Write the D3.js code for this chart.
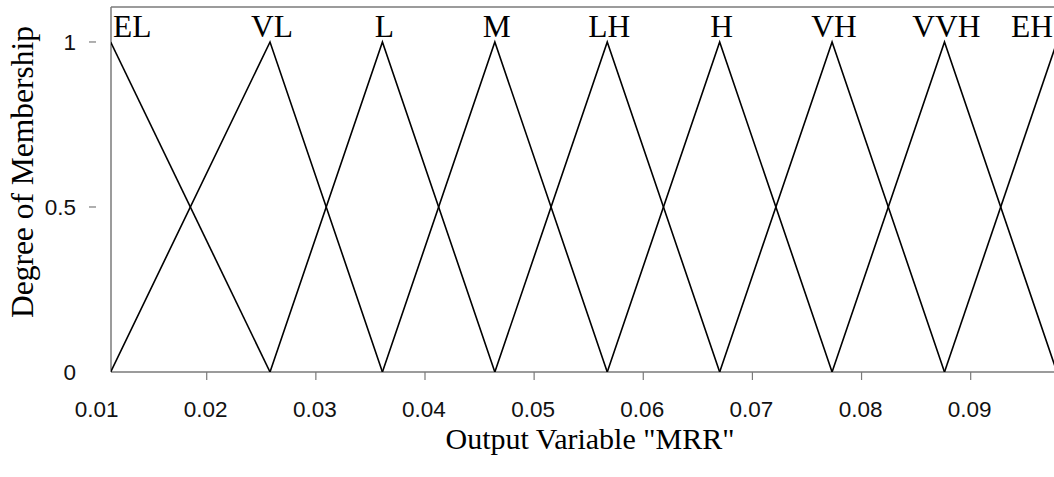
<!DOCTYPE html>
<html>
<head>
<meta charset="utf-8">
<script src="https://cdn.jsdelivr.net/npm/d3@7"></script>
<style>
  html, body { margin: 0; padding: 0; background: #fff; }
  svg { display: block; }
</style>
</head>
<body>
<svg id="chart" width="1054" height="477"></svg>
<script>
// Membership function sets for the output variable MRR
const setNames = ["EL", "VL", "L", "M", "LH", "H", "VH", "VVH", "EH"];
const peakValues = [0.0112, 0.0258, 0.0361, 0.0464, 0.0567, 0.0670, 0.0773, 0.0876, 0.0979];
const xTickValues = [0.01, 0.02, 0.03, 0.04, 0.05, 0.06, 0.07, 0.08, 0.09];
const yTickValues = [0, 0.5, 1];
const yDashValues = [0.5, 1];

const svg = d3.select("#chart");
const W = 1054;

const plotLeft = 111, plotRight = 1058, plotTop = 7, plotBottom = 372;
const x = d3.scaleLinear().domain([0.01123, 0.0980]).range([plotLeft, plotRight]);
const y = d3.scaleLinear().domain([0, 1.106]).range([plotBottom, plotTop]);

const axisColor = "#7a7a7a";
const sansFont = "'Liberation Sans', Arial, sans-serif";
const serifFont = "'Liberation Serif', 'Times New Roman', serif";

// frame: left axis, bottom axis, top border
svg.append("line").attr("x1", plotLeft).attr("x2", plotLeft).attr("y1", plotTop).attr("y2", plotBottom)
  .attr("stroke", axisColor).attr("stroke-width", 1.5);
svg.append("line").attr("x1", plotLeft).attr("x2", W).attr("y1", plotBottom).attr("y2", plotBottom)
  .attr("stroke", axisColor).attr("stroke-width", 1.5);
svg.append("line").attr("x1", plotLeft).attr("x2", W).attr("y1", plotTop).attr("y2", plotTop)
  .attr("stroke", axisColor).attr("stroke-width", 1.5);

// x ticks (only inside the domain) and labels
const xTicksG = svg.append("g");
xTicksG.selectAll("line")
  .data(xTickValues.filter(v => x(v) >= plotLeft && x(v) <= W))
  .join("line")
  .attr("x1", d => x(d)).attr("x2", d => x(d))
  .attr("y1", plotBottom).attr("y2", plotBottom + 8)
  .attr("stroke", axisColor).attr("stroke-width", 1.2);
xTicksG.selectAll("text")
  .data(xTickValues)
  .join("text")
  .attr("x", d => x(d) - 1)
  .attr("y", 417)
  .attr("text-anchor", "middle")
  .attr("font-family", sansFont).attr("font-size", 22.5)
  .attr("fill", "#111")
  .text(d => d3.format(".2f")(d));

// y ticks: short dashes set off from the axis, and labels
svg.append("g").selectAll("line")
  .data(yDashValues)
  .join("line")
  .attr("x1", 89).attr("x2", 96)
  .attr("y1", d => y(d)).attr("y2", d => y(d))
  .attr("stroke", axisColor).attr("stroke-width", 1.2);
svg.append("g").selectAll("text")
  .data(yTickValues)
  .join("text")
  .attr("x", 76)
  .attr("y", d => y(d) + 8)
  .attr("text-anchor", "end")
  .attr("font-family", sansFont).attr("font-size", 22.5)
  .attr("fill", "#111")
  .text(d => d3.format("")(d));

// triangular membership functions
const line = d3.line().x(d => x(d[0])).y(d => y(d[1]));
const shapes = setNames.map((name, i) => {
  const pts = [];
  if (i > 0) pts.push([peakValues[i - 1], 0]);
  pts.push([peakValues[i], 1]);
  if (i < peakValues.length - 1) pts.push([peakValues[i + 1], 0]);
  return { name, pts };
});
svg.append("defs").append("clipPath").attr("id", "plotClip")
  .append("rect").attr("x", plotLeft).attr("y", plotTop).attr("width", W - plotLeft).attr("height", plotBottom - plotTop);
svg.append("g").attr("clip-path", "url(#plotClip)")
  .selectAll("path")
  .data(shapes)
  .join("path")
  .attr("d", d => line(d.pts))
  .attr("fill", "none")
  .attr("stroke", "#000")
  .attr("stroke-width", 1.6)
  .attr("stroke-linejoin", "miter");

// set names above each peak
const last = shapes.length - 1;
svg.append("g").selectAll("text")
  .data(shapes)
  .join("text")
  .attr("x", (d, i) => i === 0 ? plotLeft + 2 : (i === last ? W - 1 : x(peakValues[i]) + 2))
  .attr("y", 37)
  .attr("text-anchor", (d, i) => i === 0 ? "start" : (i === last ? "end" : "middle"))
  .attr("font-family", serifFont).attr("font-size", 31.5)
  .attr("fill", "#000")
  .text(d => d.name);

// axis titles
svg.append("text")
  .attr("x", 590).attr("y", 449)
  .attr("text-anchor", "middle")
  .attr("font-family", serifFont).attr("font-size", 30)
  .attr("fill", "#000")
  .text('Output Variable "MRR"');

svg.append("text")
  .attr("transform", "translate(33,172) rotate(-90)")
  .attr("text-anchor", "middle")
  .attr("font-family", serifFont).attr("font-size", 31.5)
  .attr("fill", "#000")
  .text("Degree of Membership");
</script>
</body>
</html>
